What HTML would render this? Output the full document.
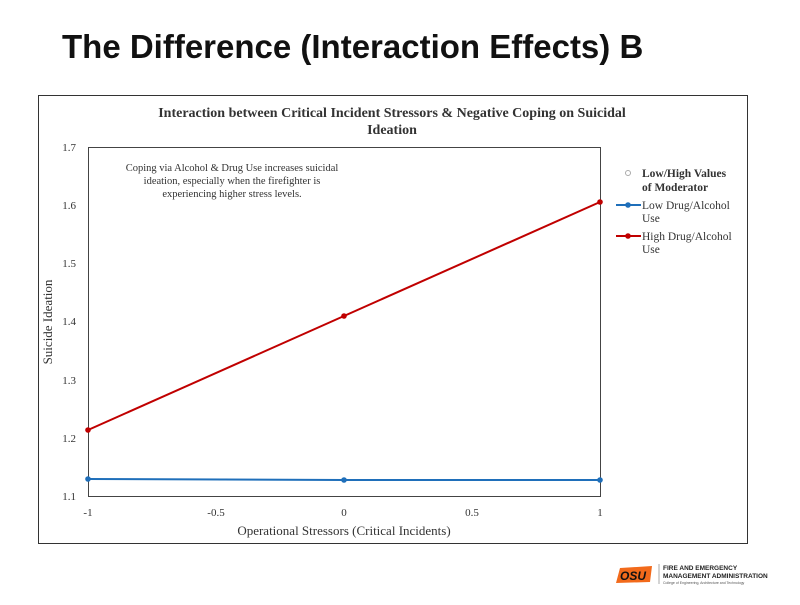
<!DOCTYPE html>
<html><head><style>
body{margin:0;width:800px;height:600px;background:#fff;overflow:hidden;font-family:"Liberation Serif",serif}
</style></head><body>
<svg width="800" height="600" xmlns="http://www.w3.org/2000/svg">
<text x="62" y="58" font-family="Liberation Sans, sans-serif" font-weight="bold" font-size="33" fill="#111">The Difference (Interaction Effects) B</text>
<rect x="38.5" y="95.5" width="709" height="448" fill="#fff" stroke="#333" stroke-width="1"/>
<text x="392" y="117" text-anchor="middle" font-size="14" font-weight="bold" fill="#333">Interaction between Critical Incident Stressors &amp; Negative Coping on Suicidal</text>
<text x="392" y="134" text-anchor="middle" font-size="14" font-weight="bold" fill="#333">Ideation</text>
<rect x="88.5" y="147.5" width="512" height="349" fill="none" stroke="#444" stroke-width="1"/>
<g font-size="11" fill="#333" text-anchor="end">
<text x="76" y="151">1.7</text><text x="76" y="209">1.6</text><text x="76" y="267">1.5</text>
<text x="76" y="325">1.4</text><text x="76" y="384">1.3</text><text x="76" y="442">1.2</text><text x="76" y="500">1.1</text>
</g>
<g font-size="11" fill="#333" text-anchor="middle">
<text x="88" y="516">-1</text><text x="216" y="516">-0.5</text><text x="344" y="516">0</text><text x="472" y="516">0.5</text><text x="600" y="516">1</text>
</g>
<text x="344" y="535" text-anchor="middle" font-size="13" fill="#333">Operational Stressors (Critical Incidents)</text>
<text transform="translate(52,322) rotate(-90)" text-anchor="middle" font-size="13" fill="#333">Suicide Ideation</text>
<g font-size="10.5" fill="#333" text-anchor="middle">
<text x="232" y="171">Coping via Alcohol &amp; Drug Use increases suicidal</text>
<text x="232" y="184">ideation, especially when the firefighter is</text>
<text x="232" y="197">experiencing higher stress levels.</text>
</g>
<polyline points="88,479 344,480 600,480" fill="none" stroke="#1f6fba" stroke-width="2"/>
<circle cx="88" cy="479" r="2.8" fill="#1f6fba"/><circle cx="344" cy="480" r="2.8" fill="#1f6fba"/><circle cx="600" cy="480" r="2.8" fill="#1f6fba"/>
<polyline points="88,430 344,316 600,202" fill="none" stroke="#c00000" stroke-width="2"/>
<circle cx="88" cy="430" r="2.8" fill="#c00000"/><circle cx="344" cy="316" r="2.8" fill="#c00000"/><circle cx="600" cy="202" r="2.8" fill="#c00000"/>
<circle cx="628" cy="173" r="2.5" fill="none" stroke="#aaa"/>
<g font-size="11.5" fill="#333">
<text x="642" y="177" font-weight="bold">Low/High Values</text>
<text x="642" y="191" font-weight="bold">of Moderator</text>
<text x="642" y="209">Low Drug/Alcohol</text><text x="642" y="222">Use</text>
<text x="642" y="240">High Drug/Alcohol</text><text x="642" y="253">Use</text>
</g>
<line x1="616" y1="205" x2="641" y2="205" stroke="#1f6fba" stroke-width="2"/><circle cx="628" cy="205" r="2.8" fill="#1f6fba"/>
<line x1="616" y1="236" x2="641" y2="236" stroke="#c00000" stroke-width="2"/><circle cx="628" cy="236" r="2.8" fill="#c00000"/>
<path d="M620 568 L652 566 L650 582 L616 583 Z" fill="#f26a1b"/>
<text x="620" y="580" font-family="Liberation Sans, sans-serif" font-weight="bold" font-style="italic" font-size="12" fill="#111">OSU</text>
<line x1="659" y1="564" x2="659" y2="584" stroke="#aaa"/>
<g font-family="Liberation Sans, sans-serif" font-weight="bold" font-size="6.5" fill="#222">
<text x="663" y="570">FIRE AND EMERGENCY</text>
<text x="663" y="578">MANAGEMENT ADMINISTRATION</text>
</g>
<text x="663" y="584" font-family="Liberation Sans, sans-serif" font-size="3.5" fill="#555">College of Engineering, Architecture and Technology</text>
</svg>
</body></html>
